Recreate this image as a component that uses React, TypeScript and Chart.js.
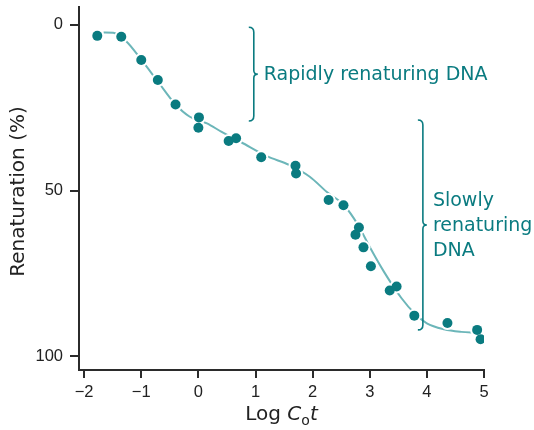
import React, { useEffect, useRef } from "react";
import { Chart, registerables } from "chart.js";

Chart.register(...registerables);

// Measured points: log C0t vs renaturation (%)
const POINT_X = [-1.77, -1.35, -1.0, -0.71, -0.4, 0.01, 0.0, 0.53, 0.66, 1.1, 1.7, 1.71, 2.28, 2.54, 2.81, 2.75, 2.89, 3.02, 3.35, 3.47, 3.78, 4.36, 4.88, 4.94];
const POINT_Y = [3.3, 3.6, 10.6, 16.6, 24.0, 27.9, 31.0, 35.0, 34.2, 39.9, 42.5, 44.8, 52.8, 54.4, 61.1, 63.3, 67.1, 72.8, 80.1, 78.9, 87.7, 89.9, 92.0, 94.8];

// Fitted curve
const CURVE_X = [-1.66, -1.49, -1.26, -1.0, -0.7, -0.4, -0.15, 0.15, 0.4, 0.75, 1.2, 1.6, 1.95, 2.25, 2.55, 2.8, 3.0, 3.25, 3.55, 3.8, 4.0, 4.3, 4.6, 4.86];
const CURVE_Y = [2.3, 2.4, 5.0, 10.5, 17.3, 24.0, 27.7, 29.7, 32.2, 35.4, 39.6, 42.3, 45.8, 50.4, 54.4, 60.5, 67.0, 74.5, 82.3, 87.3, 90.0, 91.8, 92.6, 92.9];

const X_TICKS = [-2, -1, 0, 1, 2, 3, 4, 5];
const Y_TICKS = [0, 50, 100];

// Bracket annotations: x position, y range, label lines
const BRACKET_X = [0.97, 3.93];
const BRACKET_FROM = [0.7, 28.7];
const BRACKET_TO = [29, 92];
const BRACKET_LABELS = [["Rapidly renaturing DNA"], ["Slowly", "renaturing", "DNA"]];

const Y_TITLE = "Renaturation (%)";

const TEAL = "#0a7b80";
const LINE = "#6cb6b9";
const AXIS = "#2b2b2b";
const FONT = "'Liberation Sans', Arial, sans-serif";
const TFONT = "'DejaVu Sans', sans-serif";

const annotPlugin = {
  id: "annot",
  afterDatasetsDraw(chart: any) {
    const ctx = chart.ctx;
    const xs = chart.scales.x;
    const ys = chart.scales.y;
    const area = chart.chartArea;
    ctx.save();
    // braces
    for (let i = 0; i < BRACKET_X.length; i++) {
      const x = xs.getPixelForValue(BRACKET_X[i]);
      const y1 = ys.getPixelForValue(BRACKET_FROM[i]);
      const y2 = ys.getPixelForValue(BRACKET_TO[i]);
      const ym = (y1 + y2) / 2;
      ctx.strokeStyle = TEAL;
      ctx.lineWidth = 1.6;
      ctx.beginPath();
      ctx.moveTo(x - 5, y1);
      ctx.quadraticCurveTo(x, y1, x, y1 + 5);
      ctx.lineTo(x, ym - 4);
      ctx.quadraticCurveTo(x, ym, x + 4, ym);
      ctx.quadraticCurveTo(x, ym, x, ym + 4);
      ctx.lineTo(x, y2 - 5);
      ctx.quadraticCurveTo(x, y2, x - 5, y2);
      ctx.stroke();
      const lines = BRACKET_LABELS[i];
      ctx.fillStyle = TEAL;
      ctx.font = `19px ${TFONT}`;
      ctx.textAlign = "left";
      ctx.textBaseline = "middle";
      const lh = 25;
      const startY = ym - ((lines.length - 1) * lh) / 2;
      lines.forEach((t, k) => ctx.fillText(t, x + 10, startY + k * lh + 1));
    }
    // y title
    ctx.fillStyle = "#222";
    ctx.font = `20px ${TFONT}`;
    ctx.textAlign = "center";
    ctx.textBaseline = "middle";
    ctx.save();
    ctx.translate(19, (area.top + area.bottom) / 2 + 3);
    ctx.rotate(-Math.PI / 2);
    ctx.fillText(Y_TITLE, 0, 0);
    ctx.restore();
    // x title: Log C_o t
    const parts = [
      { t: "Log ", f: `20px ${TFONT}`, dy: 0 },
      { t: "C", f: `oblique 20px ${TFONT}`, dy: 0 },
      { t: "o", f: `14px ${TFONT}`, dy: 5 },
      { t: "t", f: `oblique 20px ${TFONT}`, dy: 0 },
    ];
    let total = 0;
    for (const p of parts) {
      ctx.font = p.f;
      total += ctx.measureText(p.t).width;
    }
    let cx = (area.left + area.right) / 2 - total / 2;
    const baseY = 420;
    ctx.textAlign = "left";
    ctx.textBaseline = "alphabetic";
    for (const p of parts) {
      ctx.font = p.f;
      ctx.fillText(p.t, cx, baseY + p.dy);
      cx += ctx.measureText(p.t).width;
    }
    ctx.restore();
  },
};

export default function App() {
  const ref = useRef<HTMLCanvasElement>(null);
  useEffect(() => {
    if (!ref.current) return;
    const pts = POINT_X.map((x, i) => ({ x, y: POINT_Y[i] }));
    const curve = CURVE_X.map((x, i) => ({ x, y: CURVE_Y[i] }));
    const chart = new Chart(ref.current, {
      type: "scatter",
      data: {
        datasets: [
          {
            data: pts,
            pointRadius: 5,
            pointBackgroundColor: TEAL,
            pointBorderWidth: 0,
            order: 0,
          } as any,
          {
            data: pts,
            pointRadius: 7,
            pointBackgroundColor: "#ffffff",
            pointBorderWidth: 0,
            order: 1,
          } as any,
          {
            type: "line",
            data: curve,
            borderColor: LINE,
            borderWidth: 2,
            pointRadius: 0,
            tension: 0.4,
            cubicInterpolationMode: "monotone",
            fill: false,
            order: 2,
          } as any,
        ],
      },
      options: {
        responsive: false,
        animation: false,
        events: [],
        layout: { padding: { left: 0, top: 7, right: 50, bottom: 0 } },
        plugins: { legend: { display: false }, tooltip: { enabled: false } },
        scales: {
          x: {
            type: "linear",
            min: -2.09,
            max: 5,
            afterBuildTicks: (s: any) => {
              s.ticks = X_TICKS.map((v) => ({ value: v }));
            },
            afterFit: (s: any) => {
              s.height = 60;
              s.paddingLeft = 0;
              s.paddingRight = 0;
            },
            border: { display: true, color: AXIS, width: 2 },
            grid: { display: true, drawOnChartArea: false, drawTicks: true, tickLength: 8, color: AXIS, lineWidth: 2 },
            ticks: {
              color: "#222",
              font: { family: FONT, size: 16.5 },
              padding: 5,
              maxRotation: 0,
              callback: (v: any) => String(v).replace("-", "\u2212"),
            },
          },
          y: {
            type: "linear",
            reverse: true,
            min: -5.4,
            max: 104.1,
            afterBuildTicks: (s: any) => {
              s.ticks = Y_TICKS.map((v) => ({ value: v }));
            },
            afterFit: (s: any) => {
              s.width = 79;
              s.paddingTop = 0;
              s.paddingBottom = 0;
            },
            border: { display: true, color: AXIS, width: 2 },
            grid: { display: true, drawOnChartArea: false, drawTicks: true, tickLength: 9, color: AXIS, lineWidth: 2 },
            ticks: {
              color: "#222",
              font: { family: FONT, size: 16.5 },
              padding: 7,
              callback: (v: any) => String(v),
            },
          },
        },
      },
      plugins: [annotPlugin],
    });
    return () => chart.destroy();
  }, []);
  return (
    <div style={{ position: "fixed", left: 0, top: 0, width: 534, height: 430, background: "#fff" }}>
      <canvas ref={ref} width={534} height={430} style={{ display: "block" }} />
    </div>
  );
}
